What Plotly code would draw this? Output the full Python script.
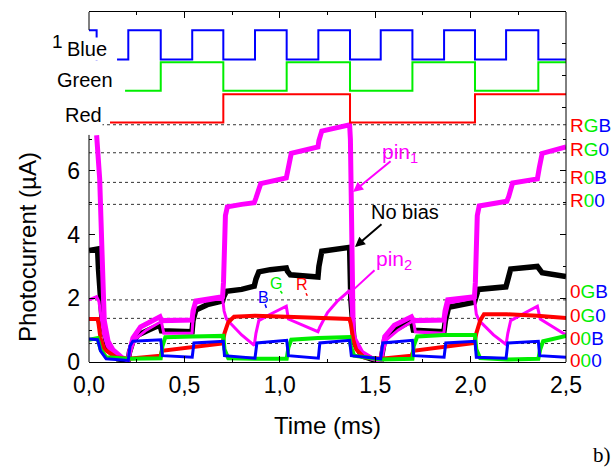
import plotly.graph_objects as go

# ---------------- data (time in ms, current in uA) ----------------
black_t = [0.000, 0.045, 0.050, 0.070, 0.100, 0.150, 0.206,
           0.212, 0.230, 0.257, 0.330, 0.372,
           0.380, 0.450, 0.540,
           0.545, 0.560, 0.620, 0.700,
           0.706, 0.720, 0.800, 0.866,
           0.875, 0.890, 0.950, 1.034,
           1.040, 1.055, 1.200,
           1.205, 1.220, 1.300, 1.366,
           1.372, 1.390, 1.430, 1.500, 1.530,
           1.536, 1.550, 1.600, 1.690,
           1.700, 1.860,
           1.868, 1.885, 2.020,
           2.026, 2.040, 2.185,
           2.192, 2.210, 2.350,
           2.360, 2.375, 2.500]
black_v = [3.50, 3.55, 2.90, 1.20, 0.40, 0.10, 0.05,
           0.30, 0.65, 0.85, 1.05, 1.16,
           0.98, 0.95, 0.95,
           1.30, 1.63, 1.80, 1.92,
           2.05, 2.22, 2.28, 2.38,
           2.60, 2.83, 2.90, 2.95,
           2.85, 2.74, 2.67,
           3.00, 3.48, 3.55, 3.60,
           2.00, 0.60, 0.20, 0.05, 0.05,
           0.30, 0.72, 1.00, 1.30,
           1.00, 0.95,
           1.30, 1.72, 1.88,
           2.05, 2.28, 2.36,
           2.50, 2.92, 3.00,
           2.90, 2.80, 2.68]

pin1_t = [0.040, 0.056, 0.068, 0.080, 0.100, 0.126, 0.170, 0.206,
          0.212, 0.230, 0.270, 0.330, 0.372,
          0.380, 0.540,
          0.545, 0.560, 0.700,
          0.705, 0.715, 0.725, 0.800, 0.866,
          0.875, 0.900, 1.034,
          1.040, 1.060, 1.200,
          1.205, 1.220, 1.300, 1.366,
          1.370, 1.378, 1.385, 1.430, 1.480, 1.530,
          1.536, 1.550, 1.600, 1.690,
          1.700, 1.860,
          1.866, 1.880, 2.020,
          2.025, 2.035, 2.045, 2.190,
          2.200, 2.220, 2.350,
          2.360, 2.375, 2.500]
pin1_v = [7.12, 5.75, 3.50, 1.30, 0.65, 0.38, 0.15, 0.06,
          0.30, 0.75, 1.10, 1.30, 1.42,
          1.30, 1.32,
          1.60, 1.92, 2.05,
          2.50, 4.60, 4.87, 4.95, 5.00,
          5.15, 5.60, 5.78,
          6.00, 6.55, 6.75,
          6.95, 7.25, 7.38, 7.45,
          7.00, 3.00, 0.80, 0.30, 0.12, 0.05,
          0.30, 0.80, 1.15, 1.42,
          1.30, 1.32,
          1.60, 1.95, 2.05,
          2.50, 4.60, 4.90, 5.05,
          5.20, 5.62, 5.75,
          6.10, 6.55, 6.75]

pin2_t = [0.000, 0.040, 0.052, 0.062, 0.075, 0.095, 0.130, 0.200,
          0.212, 0.240, 0.300, 0.372,
          0.378, 0.392, 0.540,
          0.545, 0.560, 0.700,
          0.708, 0.720, 0.800, 0.866,
          0.875, 0.890, 0.950, 1.034,
          1.045, 1.100, 1.200,
          1.210, 1.250, 1.300, 1.366,
          1.372, 1.380, 1.400, 1.440, 1.500, 1.530,
          1.536, 1.560, 1.620, 1.690,
          1.700, 1.710, 1.860,
          1.868, 1.885, 2.020,
          2.030, 2.045, 2.120, 2.186,
          2.195, 2.210, 2.270, 2.350,
          2.365, 2.420, 2.500]
pin2_v = [1.95, 2.05, 1.90, 1.40, 0.90, 0.50, 0.22, 0.06,
          0.25, 0.70, 1.00, 1.25,
          1.30, 0.90, 0.90,
          1.40, 1.85, 2.00,
          1.60, 1.35, 0.85, 0.52,
          0.90, 1.30, 1.50, 1.75,
          1.35, 1.20, 0.95,
          1.10, 1.55, 1.90, 2.25,
          2.00, 1.20, 0.60, 0.25, 0.10, 0.05,
          0.25, 0.70, 1.00, 1.25,
          1.30, 0.95, 0.90,
          1.40, 1.85, 2.00,
          1.50, 1.30, 0.85, 0.55,
          0.90, 1.30, 1.50, 1.75,
          1.35, 1.15, 0.85]

red_t = [0.000, 0.045, 0.050, 0.060, 0.080, 0.140, 0.206, 0.300, 0.375,
         0.382, 0.540, 0.700,
         0.710, 0.730, 0.760, 0.870, 1.036, 1.200, 1.365,
         1.372, 1.385, 1.400, 1.440, 1.530, 1.690,
         1.700, 1.860, 2.020,
         2.030, 2.050, 2.070, 2.190, 2.350, 2.500]
red_v = [1.35, 1.35, 1.20, 0.75, 0.40, 0.15, 0.10, 0.15, 0.20,
         0.35, 0.45, 0.58,
         0.90, 1.25, 1.42, 1.45, 1.42, 1.40, 1.35,
         1.20, 0.70, 0.40, 0.15, 0.10, 0.20,
         0.35, 0.47, 0.60,
         0.90, 1.30, 1.50, 1.50, 1.45, 1.38]

green_t = [0.000, 0.045, 0.060, 0.090, 0.206, 0.376,
           0.385, 0.400, 0.541, 0.704,
           0.710, 0.730, 0.870, 1.036,
           1.045, 1.060, 1.200, 1.365,
           1.372, 1.390, 1.530, 1.695,
           1.702, 1.720, 1.860, 2.023,
           2.030, 2.050, 2.190, 2.355,
           2.365, 2.380, 2.500]
green_v = [0.70, 0.75, 0.40, 0.15, 0.10, 0.12,
           0.50, 0.78, 0.80, 0.82,
           0.40, 0.12, 0.10, 0.10,
           0.45, 0.70, 0.75, 0.78,
           0.50, 0.20, 0.08, 0.10,
           0.50, 0.80, 0.85, 0.85,
           0.40, 0.12, 0.08, 0.10,
           0.40, 0.65, 0.82]

blue_t = [0.000, 0.045, 0.060, 0.090, 0.206,
          0.215, 0.230, 0.376,
          0.385, 0.541,
          0.550, 0.704,
          0.710, 0.870,
          0.880, 1.036,
          1.045, 1.202,
          1.210, 1.366,
          1.375, 1.529,
          1.540, 1.695,
          1.702, 1.861,
          1.870, 2.023,
          2.030, 2.186,
          2.195, 2.355,
          2.362, 2.500]
blue_v = [0.72, 0.70, 0.35, 0.10, 0.05,
          0.50, 0.65, 0.70,
          0.20, 0.15,
          0.60, 0.65,
          0.20, 0.12,
          0.60, 0.68,
          0.20, 0.12,
          0.60, 0.68,
          0.20, 0.10,
          0.60, 0.68,
          0.20, 0.15,
          0.60, 0.65,
          0.15, 0.12,
          0.60, 0.65,
          0.20, 0.15]

# digital LED drive signals (switching times, ms)
sig_blue_edges = [0.040, 0.206, 0.376, 0.541, 0.704, 0.870, 1.036, 1.202,
                  1.368, 1.529, 1.695, 1.861, 2.023, 2.186, 2.355]
sig_green_edges = [0.040, 0.376, 0.704, 1.036, 1.368, 1.695, 2.023, 2.355]
sig_red_edges = [0.040, 0.704, 1.368, 2.023]
sig_levels = {"blue": (10.42, 9.50), "green": (9.41, 8.52), "red": (8.41, 7.52)}
sig_hidden = {"blue": (0.045, 0.147), "green": (0.0, 0.189), "red": (0.0, 0.110)}

# reference levels (dotted lines) and right-hand state labels
level_vals = [7.45, 6.57, 5.64, 4.95, 1.95, 1.37, 0.58]
state_labels = ["RGB", "RG0", "R0B", "R00", "0GB", "0G0", "00B", "000"]
state_label_v = [7.42, 6.66, 5.78, 5.06, 2.20, 1.45, 0.75, 0.04]

x_tickvals = [0.0, 0.5, 1.0, 1.5, 2.0, 2.5]
x_ticktext = ["0,0", "0,5", "1,0", "1,5", "2,0", "2,5"]
y_tickvals = [0, 2, 4, 6]
y_ticktext = ["0", "2", "4", "6"]

RED, GREEN, BLUE, MAG = "#ff0000", "#00ee00", "#0000ff", "#ff00ff"
FONT = "Liberation Sans, Arial, sans-serif"


def step_segments(edges, start_high, hi, lo):
    times = [0.0] + list(edges) + [2.5]
    segs, high = [], start_high
    for a, b in zip(times[:-1], times[1:]):
        segs.append((a, b, hi if high else lo))
        high = not high
    return segs


def clip(segs, hide):
    h0, h1 = hide
    out = []
    for a, b, L in segs:
        if b <= h0 or a >= h1:
            out.append((a, b, L))
        else:
            if a < h0:
                out.append((a, h0, L))
            if b > h1:
                out.append((h1, b, L))
    return out


def to_xy(segs):
    xs, ys, prev = [], [], None
    for a, b, L in segs:
        if prev is not None and abs(a - prev) > 1e-9:
            xs.append(None); ys.append(None)
        xs += [a, b]; ys += [L, L]
        prev = b
    return xs, ys


fig = go.Figure()

# analog traces
for t, v, c, w in [(black_t, black_v, "black", 5.5),
                   (pin1_t, pin1_v, MAG, 5),
                   (pin2_t, pin2_v, MAG, 3),
                   (red_t, red_v, RED, 4),
                   (green_t, green_v, GREEN, 4),
                   (blue_t, blue_v, BLUE, 3)]:
    fig.add_trace(go.Scatter(x=t, y=v, mode="lines",
                             line=dict(color=c, width=w), showlegend=False,
                             hoverinfo="skip"))

# digital signals
for name, edges, col in [("blue", sig_blue_edges, BLUE),
                         ("green", sig_green_edges, GREEN),
                         ("red", sig_red_edges, RED)]:
    hi, lo = sig_levels[name]
    xs, ys = to_xy(clip(step_segments(edges, True, hi, lo), sig_hidden[name]))
    fig.add_trace(go.Scatter(x=xs, y=ys, mode="lines",
                             line=dict(color=col, width=2), showlegend=False,
                             hoverinfo="skip"))

# invisible trace to activate y2 (right ticks in top panel)
fig.add_trace(go.Scatter(x=[None], y=[None], yaxis="y2", showlegend=False))

shapes = []
for lv in level_vals:
    shapes.append(dict(type="line", xref="paper", yref="y", x0=0, x1=1, y0=lv, y1=lv,
                       line=dict(color="#333333", width=1, dash="dot"), layer="below"))
# frame pieces: left axis only partly visible, right full
shapes.append(dict(type="line", xref="paper", yref="y", x0=0, x1=0, y0=0, y1=7.13,
                   line=dict(color="black", width=1)))
shapes.append(dict(type="line", xref="paper", yref="y", x0=0, x1=0, y0=10.42, y1=10.99,
                   line=dict(color="black", width=1)))
shapes.append(dict(type="line", xref="paper", yref="paper", x0=1, x1=1, y0=0, y1=1,
                   line=dict(color="black", width=1)))

ann = []


def colored(label):
    cols = [RED, GREEN, BLUE]
    return "".join('<span style="color:%s">%s</span>' % (cols[i], ch) for i, ch in enumerate(label))


for lab, v in zip(state_labels, state_label_v):
    ann.append(dict(x=1.004, xref="paper", y=v, yref="y", text=colored(lab),
                    showarrow=False, xanchor="left", yanchor="middle",
                    font=dict(size=19, family=FONT)))

ann.append(dict(x=-0.067, xref="paper", y=10.05, yref="y", text="1", showarrow=False,
                xanchor="center", yanchor="middle", font=dict(size=19, family=FONT, color="black")))
for txt, xp, v in [("Blue", 0.0390, 9.84), ("Green", 0.0515, 8.86), ("Red", 0.029, 7.76)]:
    ann.append(dict(x=xp, xref="paper", y=v, yref="y", text=txt, showarrow=False,
                    xanchor="right", yanchor="middle", bgcolor="white", borderpad=0,
                    font=dict(size=20, family=FONT, color="black")))

# trace labels
ann.append(dict(x=1.63, y=6.57, text="pin<sub>1</sub>", showarrow=False,
                xanchor="center", yanchor="middle",
                font=dict(size=21, family=FONT, color=MAG)))
ann.append(dict(x=1.60, y=3.20, text="pin<sub>2</sub>", showarrow=False,
                xanchor="center", yanchor="middle",
                font=dict(size=21, family=FONT, color=MAG)))
ann.append(dict(x=1.656, y=4.70, text="No bias", showarrow=False,
                xanchor="center", yanchor="middle",
                font=dict(size=20, family=FONT, color="black")))
ann.append(dict(x=0.912, y=2.04, text="B", showarrow=False, font=dict(size=16, family=FONT, color=BLUE)))
ann.append(dict(x=0.980, y=2.45, text="G", showarrow=False, font=dict(size=16, family=FONT, color=GREEN)))
ann.append(dict(x=1.116, y=2.42, text="R", showarrow=False, font=dict(size=16, family=FONT, color=RED)))

# arrows
for hx, hy, axp, ayp, col, head, w in [
        (1.384, 5.34, 39, -32, MAG, 2, 2),
        (1.394, 3.61, 28, -24, "black", 2, 2),
        (1.368, 2.17, 26, -24, MAG, 0, 2),
        (0.930, 1.70, -2, -5, BLUE, 0, 1.5),
        (1.013, 2.15, -3, -4, GREEN, 0, 1.5),
        (1.144, 2.08, -2, -4, RED, 0, 1.5)]:
    ann.append(dict(x=hx, y=hy, ax=axp, ay=ayp, text="", showarrow=True,
                    arrowcolor=col, arrowhead=head, arrowsize=1, arrowwidth=w, standoff=0))

# axis titles
ann.append(dict(x=-0.13, xref="paper", y=3.61, yref="y", text="Photocurrent (\u00b5A)",
                textangle=-90, showarrow=False, xanchor="center", yanchor="middle",
                font=dict(size=24, family=FONT, color="black")))
ann.append(dict(x=0.499, xref="paper", y=-0.18, yref="paper", text="Time (ms)",
                showarrow=False, xanchor="center", yanchor="middle",
                font=dict(size=24, family=FONT, color="black")))
ann.append(dict(x=1.075, xref="paper", y=-0.267, yref="paper", text="b)", showarrow=False,
                xanchor="center", yanchor="middle",
                font=dict(size=21, family="Liberation Serif, Times New Roman, serif", color="black")))

fig.update_layout(
    width=616, height=470,
    margin=dict(l=89, r=50, t=12, b=108),
    paper_bgcolor="white", plot_bgcolor="white",
    showlegend=False,
    shapes=shapes, annotations=ann,
    font=dict(family=FONT, color="black"),
    xaxis=dict(range=[0, 2.5], tickvals=x_tickvals, ticktext=x_ticktext,
               ticks="inside", ticklen=6, tickcolor="black",
               minor=dict(tickvals=[0.25, 0.75, 1.25, 1.75, 2.25], ticks="inside", ticklen=3,
                          tickcolor="black"),
               showline=True, linecolor="black", linewidth=1, mirror="ticks",
               showgrid=False, zeroline=False, tickfont=dict(size=23), ticklabelstandoff=2),
    yaxis=dict(range=[0, 10.99], tickvals=y_tickvals, ticktext=y_ticktext,
               ticks="inside", ticklen=6, tickcolor="black",
               minor=dict(tickvals=[1, 3, 5, 7], ticks="inside", ticklen=3, tickcolor="black"),
               showline=False, mirror="ticks", showgrid=False, zeroline=False,
               tickfont=dict(size=23), ticklabelstandoff=8),
    yaxis2=dict(range=[0, 10.99], overlaying="y", side="right", tickvals=[8, 9, 10],
                ticks="inside", ticklen=4, tickcolor="black", showticklabels=False,
                showgrid=False, zeroline=False, showline=False),
)

fig.write_html("out.html")
